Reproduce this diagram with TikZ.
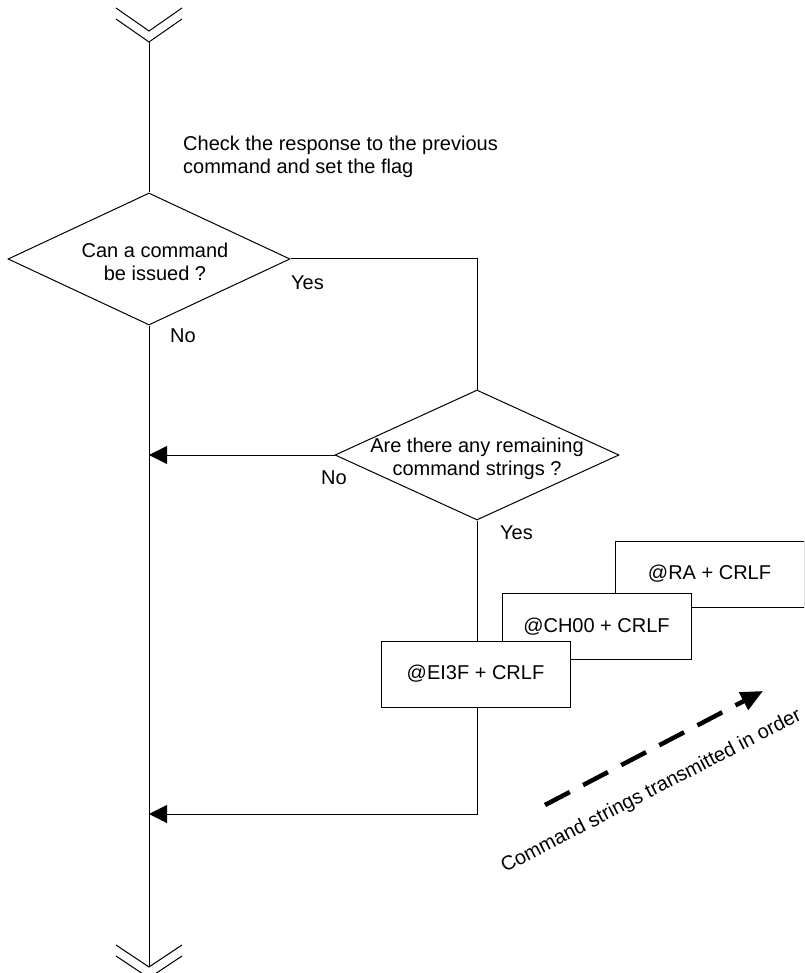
\documentclass[tikz,border=0pt]{standalone}
\usepackage{fontspec}
\setmainfont{Liberation Sans}
\usetikzlibrary{shapes.geometric,arrows.meta}
\begin{document}
\begin{tikzpicture}[x=1pt,y=-1pt,
  every node/.style={font=\fontsize{20}{23}\selectfont, inner sep=0pt},
  ln/.style={draw=black, line width=1pt},
  dia/.style={shape=diamond, draw=black, line width=1pt, inner sep=0pt},
  cbox/.style={draw=black, line width=1pt, fill=white, minimum width=189pt, minimum height=66pt},
  arr/.style={ln, -{Triangle[length=18pt,width=18pt]}},
  lbl/.style={anchor=west}
]
\useasboundingbox (0,0) rectangle (804,973);
\clip (0,0) rectangle (804,973);

% top and bottom chevrons
\draw[ln] (116,8) -- (149,31) -- (182,8);
\draw[ln] (116,19) -- (149,42) -- (182,19);
\coordinate (top) at (149,42);
\draw[ln] (116,945) -- (149,967) -- (182,945);
\draw[ln] (116,956) -- (149,978) -- (182,956);
\coordinate (bot) at (149,967);

% text
\node[anchor=west, align=left] (chk) at (183,157) {Check the response to the previous\\command and set the flag};

% decisions
\node[dia, minimum width=282pt, minimum height=132pt] (d1) at (149,259) {};
\node[align=center] (t1) at (155,262) {Can a command\\be issued ?};
\node[dia, minimum width=284pt, minimum height=130pt] (d2) at (477,455) {};
\node[align=center] (t2) at (477,459) {Are there any remaining\\command strings ?};

% connectors
\draw[ln] (top) -- (d1.north);
\draw[ln] (d1.south) -- (bot);
\draw[ln] (d1.east) -| (d2.north);
\draw[arr] (d2.west) -- (d2.west -| top);
\coordinate (j) at (149,814);
\draw[arr] (d2.south) |- (j);

% labels
\node[lbl] (y1) at (291,283) {Yes};
\node[lbl] (n1) at (170,336) {No};
\node (n2) at (334,478) {No};
\node[lbl] (y2) at (500,533) {Yes};

% command boxes
\node[cbox] (b3) at (709.5,574) {@RA + CRLF};
\node[cbox] (b2) at (596.5,626.5) {@CH00 + CRLF};
\node[cbox] (b1) at (475.5,674) {@EI3F + CRLF};

% dashed arrow
\coordinate (a0) at (545,805);
\coordinate (a1) at (763,691);
\draw[line width=4.5pt, dash pattern=on 28pt off 15pt, -{Triangle[length=22pt,width=19pt]}] (a0) -- (a1);
\node[anchor=base west, rotate=27.3] (ord) at (505,873) {Command strings transmitted in order};
\end{tikzpicture}
\end{document}
